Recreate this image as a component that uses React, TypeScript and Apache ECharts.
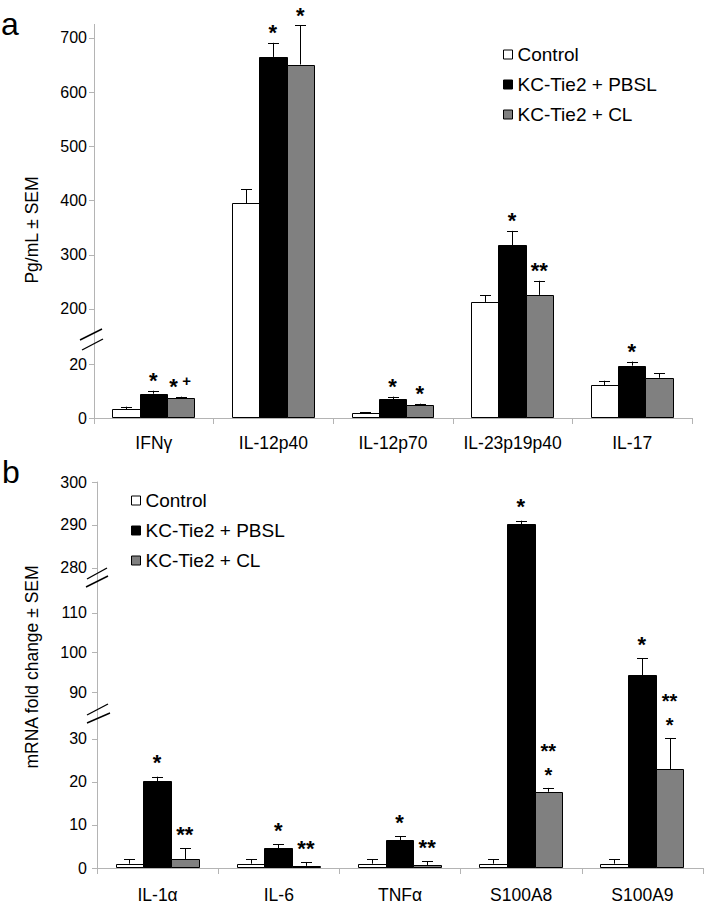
import React, { useEffect, useRef } from 'react';
import * as echarts from 'echarts';

// ---------- data ----------
const GROUPS = ['Control', 'KC-Tie2 + PBSL', 'KC-Tie2 + CL'];

const CATS_A = ['IFNγ', 'IL-12p40', 'IL-12p70', 'IL-23p19p40', 'IL-17'];
const CONTROL_A = [3.3, 395, 2.0, 213, 12.2];
const PBSL_A = [9.0, 665, 7.0, 318, 19.4];
const CL_A = [7.5, 651, 4.8, 226, 14.9];
const CONTROL_A_SEM = [0.9, 26, 0.2, 12, 1.6];
const PBSL_A_SEM = [1.1, 26, 0.9, 26, 1.5];
const CL_A_SEM = [0.4, 72, 0.5, 26, 1.6];
const CONTROL_A_SIG = ['', '', '', '', ''];
const PBSL_A_SIG = ['*', '*', '*', '*', '*'];
const CL_A_SIG = ['*+', '*', '*', '**', ''];

const CATS_B = ['IL-1α', 'IL-6', 'TNFα', 'S100A8', 'S100A9'];
const CONTROL_B = [1.0, 1.0, 1.0, 1.0, 1.0];
const PBSL_B = [20.2, 4.6, 6.5, 290.2, 94.3];
const CL_B = [2.1, 0.5, 0.7, 17.7, 23.0];
const CONTROL_B_SEM = [1.0, 1.0, 1.0, 1.0, 1.0];
const PBSL_B_SEM = [1.0, 0.9, 0.9, 0.8, 4.3];
const CL_B_SEM = [2.5, 0.9, 0.9, 0.9, 7.2];
const CONTROL_B_SIG = ['', '', '', '', ''];
const PBSL_B_SIG = ['*', '*', '*', '*', '*'];
const CL_B_SIG = ['**', '**', '**', '**\n*', '**\n*'];

const TICKS_A_LOW = [0, 20];
const TICKS_A_UP = [200, 300, 400, 500, 600, 700];
const TICKS_B_LOW = [0, 10, 20, 30];
const TICKS_B_MID = [90, 100, 110];
const TICKS_B_UP = [280, 290, 300];

// ---------- styling / layout ----------
const FONT = '"Liberation Sans", Arial, Helvetica, sans-serif';
const COLORS = ['#ffffff', '#000000', '#808080'];
const AXIS_GRAY = '#b4b4b4';
const BAR_FRAC = 0.228;
const CAP_W = 11;
const STAR_SIZE = 22;
const STACK_SIZE = 20;
const STACK_GAP = 23.5;

type Seg = { top: number; height: number; min: number; max: number; ticks: number[] };
type Panel = {
  left: number; right: number; labelMargin: number; catMargin: number; sigOffset: number;
  cats: string[];
  values: number[][]; sems: number[][]; sigs: string[][];
  segs: Seg[];
};

const PANEL_A: Panel = {
  left: 94, right: 13, labelMargin: 7, catMargin: 16, sigOffset: 15,
  cats: CATS_A,
  values: [CONTROL_A, PBSL_A, CL_A],
  sems: [CONTROL_A_SEM, PBSL_A_SEM, CL_A_SEM],
  sigs: [CONTROL_A_SIG, PBSL_A_SIG, CL_A_SIG],
  segs: [
    { top: 337, height: 81, min: 0, max: 30, ticks: TICKS_A_LOW },
    { top: 24.4, height: 312.6, min: 148.3, max: 725, ticks: TICKS_A_UP },
  ],
};

const PANEL_B: Panel = {
  left: 97, right: 2, labelMargin: 10, catMargin: 18, sigOffset: 19,
  cats: CATS_B,
  values: [CONTROL_B, PBSL_B, CL_B],
  sems: [CONTROL_B_SEM, PBSL_B_SEM, CL_B_SEM],
  sigs: [CONTROL_B_SIG, PBSL_B_SIG, CL_B_SIG],
  segs: [
    { top: 713, height: 155, min: 0, max: 36, ticks: TICKS_B_LOW },
    { top: 577, height: 136, min: 84.7, max: 119.1, ticks: TICKS_B_MID },
    { top: 482, height: 95, min: 277.9, max: 300, ticks: TICKS_B_UP },
  ],
};

// text centred (central baseline) at y; asterisk ink sits ~0.23em above that centre
function starText(x: number, inkY: number, text: string, size: number) {
  return {
    type: 'text', x, y: inkY + 0.23 * size,
    style: { text, fill: '#000', fontSize: size, fontWeight: 'bold', fontFamily: FONT, align: 'center', verticalAlign: 'middle' },
  };
}

function buildPanel(panel: Panel, gridStart: number) {
  const grids: any[] = [];
  const xAxes: any[] = [];
  const yAxes: any[] = [];
  const series: any[] = [];
  panel.segs.forEach((seg, si) => {
    const gi = gridStart + si;
    const lowest = si === 0;
    grids.push({ left: panel.left, right: panel.right, top: seg.top, height: seg.height, containLabel: false });
    xAxes.push({
      gridIndex: gi,
      type: 'category',
      data: panel.cats,
      show: lowest,
      axisLine: { show: true, onZero: false, lineStyle: { color: AXIS_GRAY, width: 1 } },
      axisTick: { show: true, length: 6, lineStyle: { color: AXIS_GRAY } },
      axisLabel: { interval: 0, margin: panel.catMargin, fontSize: 17.5, color: '#000', fontFamily: FONT },
      splitLine: { show: false },
    });
    yAxes.push({
      gridIndex: gi,
      type: 'value',
      min: seg.min,
      max: seg.max,
      axisLine: { show: true, lineStyle: { color: AXIS_GRAY, width: 1 } },
      axisTick: { show: true, length: 5, lineStyle: { color: AXIS_GRAY }, customValues: seg.ticks },
      axisLabel: { customValues: seg.ticks, margin: panel.labelMargin, fontSize: 16, color: '#000', fontFamily: FONT },
      splitLine: { show: false },
    });
    for (let g = 0; g < 3; g++) {
      const vals = panel.values[g];
      const sems = panel.sems[g];
      const sigs = panel.sigs[g];
      series.push({
        type: 'custom',
        name: GROUPS[g],
        xAxisIndex: gi,
        yAxisIndex: gi,
        encode: { x: 0, y: 1 },
        itemStyle: { color: COLORS[g], borderColor: '#000', borderWidth: 1 },
        data: vals.map((v, i) => [i, v, sems[i]]),
        renderItem: (params: any, api: any) => {
          const i = api.value(0);
          const v = api.value(1);
          const e = api.value(2);
          const cs = params.coordSys;
          const top = cs.y;
          const bottom = cs.y + cs.height;
          const band = api.size([1, 0])[0];
          const bw = band * BAR_FRAC;
          const center = api.coord([i, seg.min])[0] - 0.5 + (g - 1) * bw;
          const x0 = Math.round(center - bw / 2) + 0.5;
          const x1 = Math.round(center + bw / 2) + 0.5;
          const cx = Math.round(center) + 0.5;
          const yv = api.coord([i, v])[1];
          const yc = api.coord([i, v + e])[1];
          const children: any[] = [];
          const stroke = { stroke: '#000', lineWidth: 1, fill: null };
          if (yv < bottom) {
            const hasTop = yv >= top;
            const yt = hasTop ? Math.round(yv) + 0.5 : top;
            const yb = lowest ? Math.round(bottom) - 0.5 : bottom;
            children.push({
              type: 'rect',
              shape: { x: x0, y: yt, width: x1 - x0, height: yb - yt },
              style: { fill: COLORS[g], stroke: null },
            });
            if (lowest && hasTop) {
              children.push({ type: 'polygon', shape: { points: [[x0, yb], [x0, yt], [x1, yt], [x1, yb]] }, style: stroke });
            } else if (lowest) {
              children.push({ type: 'polyline', shape: { points: [[x1, yt], [x1, yb], [x0, yb], [x0, yt]] }, style: stroke });
            } else if (hasTop) {
              children.push({ type: 'polyline', shape: { points: [[x0, yb], [x0, yt], [x1, yt], [x1, yb]] }, style: stroke });
            } else {
              children.push({ type: 'line', shape: { x1: x0, y1: yt, x2: x0, y2: yb }, style: stroke });
              children.push({ type: 'line', shape: { x1: x1, y1: yt, x2: x1, y2: yb }, style: stroke });
            }
          }
          // error bar (upper SEM only)
          const ls = Math.min(yv, bottom);
          const le = Math.max(yc, top);
          if (ls > le + 0.2) {
            children.push({ type: 'line', shape: { x1: cx, y1: ls, x2: cx, y2: le }, style: stroke });
          }
          if (yc >= top && yc <= bottom) {
            const ycr = Math.round(yc) + 0.5;
            children.push({ type: 'line', shape: { x1: cx - CAP_W / 2, y1: ycr, x2: cx + CAP_W / 2, y2: ycr }, style: stroke });
            const sig = sigs[params.dataIndex];
            if (sig) {
              const inkY = yc - panel.sigOffset;
              if (sig === '*+') {
                children.push(starText(center - 7, inkY, '*', STAR_SIZE));
                children.push({ type: 'text', x: center + 6, y: inkY - 1, style: { text: '+', fill: '#000', fontSize: 15, fontWeight: 'bold', fontFamily: FONT, align: 'center', verticalAlign: 'middle' } });
              } else if (sig.indexOf('\n') >= 0) {
                const lines = sig.split('\n');
                const n = lines.length;
                lines.forEach((ln, k) => {
                  children.push(starText(center, inkY + 1 - (n - 1 - k) * STACK_GAP, ln, STACK_SIZE));
                });
              } else {
                children.push(starText(center, inkY, sig, STAR_SIZE));
              }
            }
          }
          return { type: 'group', children };
        },
      });
    }
  });
  return { grids, xAxes, yAxes, series };
}

function legendFor(left: number, top: number) {
  return {
    orient: 'vertical',
    left,
    top,
    padding: 0,
    itemWidth: 9,
    itemHeight: 9,
    itemGap: 11,
    icon: 'rect',
    selectedMode: false,
    textStyle: { fontSize: 19, color: '#000', fontFamily: FONT },
    data: GROUPS.map((name, g) => ({
      name,
      icon: 'rect',
      itemStyle: { color: COLORS[g], borderColor: '#000', borderWidth: 1 },
    })),
  };
}

function breakMark(x1: number, y1: number, x2: number, y2: number) {
  return { type: 'line', shape: { x1, y1, x2, y2 }, style: { stroke: '#000', lineWidth: 1.4 }, z: 100 };
}

export default function App() {
  const ref = useRef<HTMLDivElement>(null);
  useEffect(() => {
    if (!ref.current) return;
    const chart = echarts.init(ref.current, undefined, { renderer: 'svg' });
    const a = buildPanel(PANEL_A, 0);
    const b = buildPanel(PANEL_B, PANEL_A.segs.length);
    const option: any = {
      animation: false,
      backgroundColor: '#ffffff',
      textStyle: { fontFamily: FONT },
      grid: [...a.grids, ...b.grids],
      xAxis: [...a.xAxes, ...b.xAxes],
      yAxis: [...a.yAxes, ...b.yAxes],
      series: [...a.series, ...b.series],
      legend: [legendFor(503, 45), legendFor(131, 491)],
      graphic: [
        { type: 'text', x: 1, y: 24, style: { text: 'a', fontSize: 32, fill: '#000', fontFamily: FONT, align: 'left', verticalAlign: 'middle' } },
        { type: 'text', x: 2, y: 472, style: { text: 'b', fontSize: 32, fill: '#000', fontFamily: FONT, align: 'left', verticalAlign: 'middle' } },
        { type: 'text', x: 32, y: 230, rotation: Math.PI / 2, style: { text: 'Pg/mL ± SEM', fontSize: 17.5, fill: '#000', fontFamily: FONT, align: 'center', verticalAlign: 'middle' } },
        { type: 'text', x: 32, y: 667, rotation: Math.PI / 2, style: { text: 'mRNA fold change ± SEM', fontSize: 17.5, fill: '#000', fontFamily: FONT, align: 'center', verticalAlign: 'middle' } },
        breakMark(80, 340, 102, 329),
        breakMark(82, 350, 103, 339),
        breakMark(87, 579, 107, 568),
        breakMark(86, 587, 108, 576),
        breakMark(87, 715, 108, 704),
        breakMark(87, 723, 110, 713),
      ],
    };
    chart.setOption(option);
    return () => chart.dispose();
  }, []);
  return <div ref={ref} style={{ position: 'absolute', left: 0, top: 0, width: 705, height: 906 }} />;
}
